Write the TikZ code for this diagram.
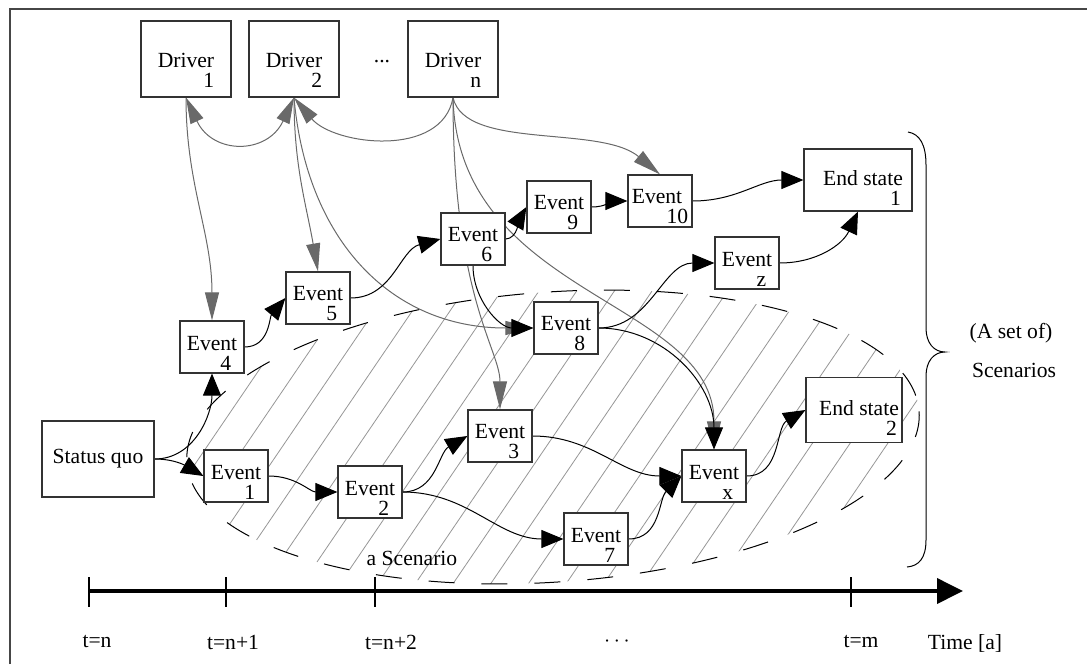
\documentclass[tikz,border=0pt]{standalone}
\usepackage{fontspec}
\setmainfont{Liberation Serif}
\usetikzlibrary{arrows.meta}
\definecolor{inflgray}{RGB}{105,105,105}
\definecolor{hatchgray}{RGB}{150,150,150}
\definecolor{framegray}{RGB}{70,70,70}
\pgfdeclarelayer{background}
\pgfsetlayers{background,main}

\begin{document}
\begin{tikzpicture}[x=0.5pt, y=-0.5pt, every node/.style={font=\fontsize{10.8}{12}\selectfont}]
    \tikzstyle{eblock} = [rectangle, draw=black!80, line width=0.6pt, fill=white,
    align=right, font=\fontsize{10.8}{10}\selectfont, inner sep=1pt,
    minimum width=32pt, minimum height=26pt];
    \tikzstyle{dblock} = [eblock, minimum width=45pt, minimum height=38pt];
    \tikzstyle{endblock} = [eblock];
    \tikzstyle{sqblock} = [rectangle, draw=black!80, line width=0.6pt, fill=white,
    inner sep=1pt, minimum width=56pt, minimum height=38pt];
    \tikzstyle{line} = [draw, line width=0.5pt, -{Triangle[length=11pt,width=9pt]}];
    \tikzstyle{infline} = [draw=inflgray, line width=0.5pt, -{Triangle[length=14pt,width=7pt]}];
    \tikzstyle{hatchline} = [draw=hatchgray, line width=0.4pt];
    \tikzstyle{scenario} = [draw, line width=0.5pt, dash pattern=on 13pt off 13.5pt];
    \tikzstyle{timeline} = [draw, line width=1.9pt, -{Triangle[length=13pt,width=12.5pt]}];
    \tikzstyle{tickline} = [draw, line width=0.6pt];

    \useasboundingbox (0,0) rectangle (1087,664);
    \draw[framegray, line width=1pt] (10,664) -- (10,9) -- (1087,9);

    % Drivers
    \node [dblock] (d1) at (186,59) {\rule{0pt}{18pt}Driver\\1};
    \node [dblock] (d2) at (294,59) {\rule{0pt}{18pt}Driver\\2};
    \node (dots) at (382,62) {...};
    \node [dblock] (dn) at (453,59) {\rule{0pt}{18pt}Driver\\n};
    % Start
    \node [sqblock] (sq) at (98,459) {Status quo};
    % Events
    \node [eblock] (e1) at (236,476) {\rule{0pt}{13pt}Event\\1\hspace*{3pt}};
    \node [eblock] (e2) at (370,492) {\rule{0pt}{13pt}Event\\2\hspace*{3pt}};
    \node [eblock] (e3) at (500,436) {\rule{0pt}{13pt}Event\\3\hspace*{3pt}};
    \node [eblock] (e4) at (212,347) {\rule{0pt}{13pt}Event\\4\hspace*{3pt}};
    \node [eblock] (e5) at (318,298) {\rule{0pt}{13pt}Event\\5\hspace*{3pt}};
    \node [eblock] (e6) at (473,239) {\rule{0pt}{13pt}Event\\6\hspace*{3pt}};
    \node [eblock] (e7) at (596,539) {\rule{0pt}{13pt}Event\\7\hspace*{3pt}};
    \node [eblock] (e8) at (566,328) {\rule{0pt}{13pt}Event\\8\hspace*{3pt}};
    \node [eblock] (e9) at (559,207) {\rule{0pt}{13pt}Event\\9\hspace*{3pt}};
    \node [eblock] (e10) at (660,201) {\rule{0pt}{13pt}Event\hspace*{3pt}\\10};
    \node [eblock] (ez) at (747,263) {\rule{0pt}{13pt}Event\\z\hspace*{3pt}};
    \node [eblock] (ex) at (714,476) {\rule{0pt}{13pt}Event\\x\hspace*{3pt}};
    % End states
    \node [endblock, minimum width=54pt, minimum height=31pt] (end1) at (858,180)
      {\rule{0pt}{15pt}\hspace*{5pt}End state\\1\hspace*{1pt}};
    \node [endblock, minimum width=48pt, minimum height=32.5pt] (end2) at (854,410)
      {\rule{0pt}{15pt}\hspace*{5pt}End state\\2\hspace*{1pt}};

    \node (scen) at (412,558) {a Scenario};
    \node (setof) at (1011,333) {(A set of)};
    \node (scens) at (1014,370) {Scenarios};

    % the set of scenarios
    \draw[line width=0.5pt] (908,132) .. controls (920,134) and (926,145) .. (926,165) -- (926,328)
      .. controls (926,343) and (934,352) .. (945,352) .. controls (934,352) and (926,361) .. (926,376)
      -- (926,540) .. controls (926,558) and (919,566) .. (907,567);

    % time axis
    \coordinate (t0) at (89,591);
    \coordinate (t1) at (963,591);
    \draw[timeline] (t0) -- (t1);
    \foreach \x in {89,226,375,851}
      \draw[tickline] (\x,577) -- (\x,607);
    \node (tn) at (97,642) {t=n};
    \node (tn1) at (233,642) {t=n+1};
    \node (tn2) at (391,642) {t=n+2};
    \node (tdots) at (617,642) {$\cdots$};
    \node (tm) at (861,642) {t=m};
    \node (time) at (965,643) {Time [a]};

    \begin{pgfonlayer}{background}
      % hatched scenario
      \begin{scope}
        \clip[rotate around={4:(553,437)}] (553,437) ellipse [x radius=367, y radius=145];
        \foreach \k in {-20,...,6}
          \draw[hatchline] ({799+37.7*\k-0.68*170},633) -- ({799+37.7*\k+0.68*190},273);
      \end{scope}
      \draw[scenario, rotate around={4:(553,437)}] (553,437) ellipse [x radius=367, y radius=145];

      % Drawing the driver links
      \draw[infline] (d1.south) to[out=-90,in=90] (e4.north);
      \draw[infline, {Triangle[length=13pt,width=7pt]}-{Triangle[length=13pt,width=7pt]}]
        (d1.south) to[out=-65,in=-115,looseness=1.5] (d2.south);
      \draw[infline] (dn.south) to[out=-100,in=-50] (d2.south);
      \draw[infline] (dn.south) .. controls +(12,53) and +(-60,-50) .. (e10.north);
      \draw[infline] (dn.south) .. controls +(0,200) and +(0,-60) .. (e3.north);
      \draw[infline] (dn.south) .. controls +(5,200) and +(0,-150) .. (ex.north);
      \draw[infline] (d2.south) to[out=-90,in=100] (e5.north);
      \draw[infline] (d2.south) to[out=-85,in=180,looseness=1.1] (e8.west);

      % Drawing the event links
      \draw[line] (sq.east) to[out=0,in=-90] (e4.south);
      \draw[line] (sq.east) to[out=0,in=150] (e1.west);
      \draw[line] (e1.east) to[out=0,in=180] (e2.west);
      \draw[line] (e2.east) to[out=0,in=210] (e3.west);
      \draw[line] (e2.east) to[out=0,in=180] (e7.west);
      \draw[line] (e3.east) to[out=0,in=180] (ex.west);
      \draw[line] (e7.east) to[out=0,in=225] (ex.west);
      \draw[line] (ex.east) to[out=0,in=210] (end2.west);
      \draw[line] (e4.east) to[out=0,in=230] (e5.west);
      \draw[line] (e5.east) to[out=0,in=195] (e6.west);
      \draw[line] (e6.east) to[out=0,in=240,looseness=0.8] (e9.west);
      \draw[line] (e9.east) to[out=0,in=180] (e10.west);
      \draw[line] (e10.east) to[out=0,in=180] (end1.west);
      \draw[line] (e6.south) to[out=-90,in=180] (e8.west);
      \draw[line] (e8.east) to[out=0,in=180] (ez.west);
      \draw[line] (ez.east) to[out=0,in=-115] (end1.south);
      \draw[line] (e8.east) to[out=0,in=90] (ex.north);
    \end{pgfonlayer}
\end{tikzpicture}
\end{document}
